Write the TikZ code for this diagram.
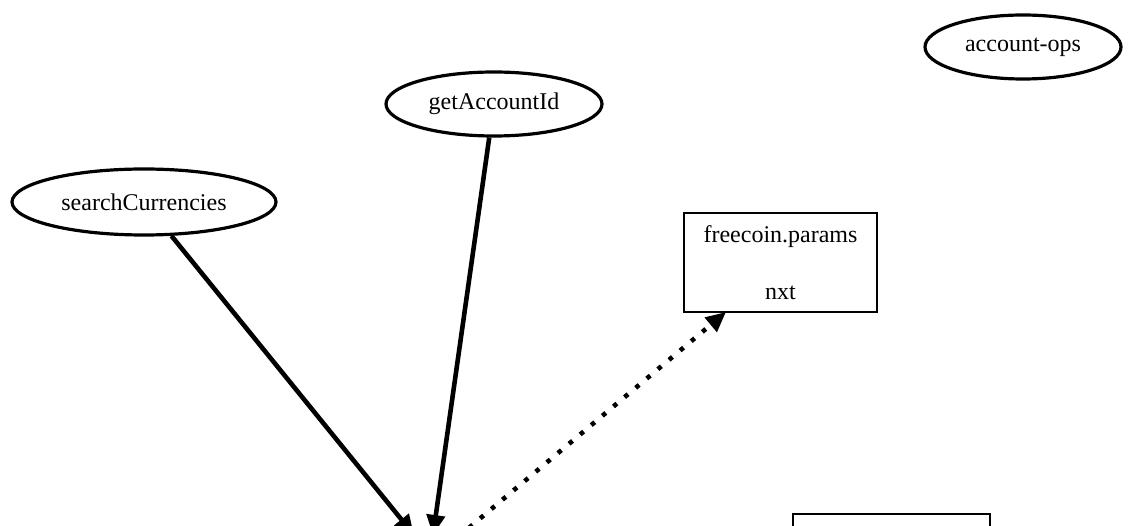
\documentclass[tikz,border=0pt]{standalone}
\usepackage{fontspec}
\setmainfont{Liberation Serif}
\usetikzlibrary{shapes.geometric,arrows.meta}
\begin{document}
\begin{tikzpicture}[x=1pt,y=-1pt,
  every node/.style={font=\fontsize{24}{28}\selectfont, inner sep=0pt},
  opnode/.style={draw, ellipse, line width=3.2pt},
  filebox/.style={draw, rectangle, line width=1.4pt, fill=white},
  dep/.style={line width=4.6pt, -{Triangle[length=20pt,width=18pt]}},
  uses/.style={line width=4.6pt, dash pattern=on 4.5pt off 10pt,
    -{Triangle[length=20pt,width=18pt]}}]
\useasboundingbox (0,0) rectangle (1130,526);
\clip (0,0) rectangle (1130,526);

% operations
\node[opnode, minimum width=196pt, minimum height=64pt] (acctops) at (1023,47) {account-ops};
\node[opnode, minimum width=216pt, minimum height=64pt] (getid) at (494,104) {getAccountId};
\node[opnode, minimum width=264pt, minimum height=66pt] (search) at (144,202) {searchCurrencies};

% parameter files
\node[filebox, minimum width=193pt, minimum height=99pt, align=center] (params) at (780.5,262.5)
  {freecoin.params\\[29pt]nxt};
\node[filebox, minimum width=197pt, minimum height=100pt] (lower) at (891.5,564) {};

% shared target below the visible area
\coordinate (hubA) at (414,535);
\coordinate (hubB) at (433,535);
\coordinate (hubC) at (458,537);

\draw[dep] (search) -- (hubA);
\draw[dep] (getid) -- (hubB);
\draw[uses] (hubC) -- (726,312);
\end{tikzpicture}
\end{document}
